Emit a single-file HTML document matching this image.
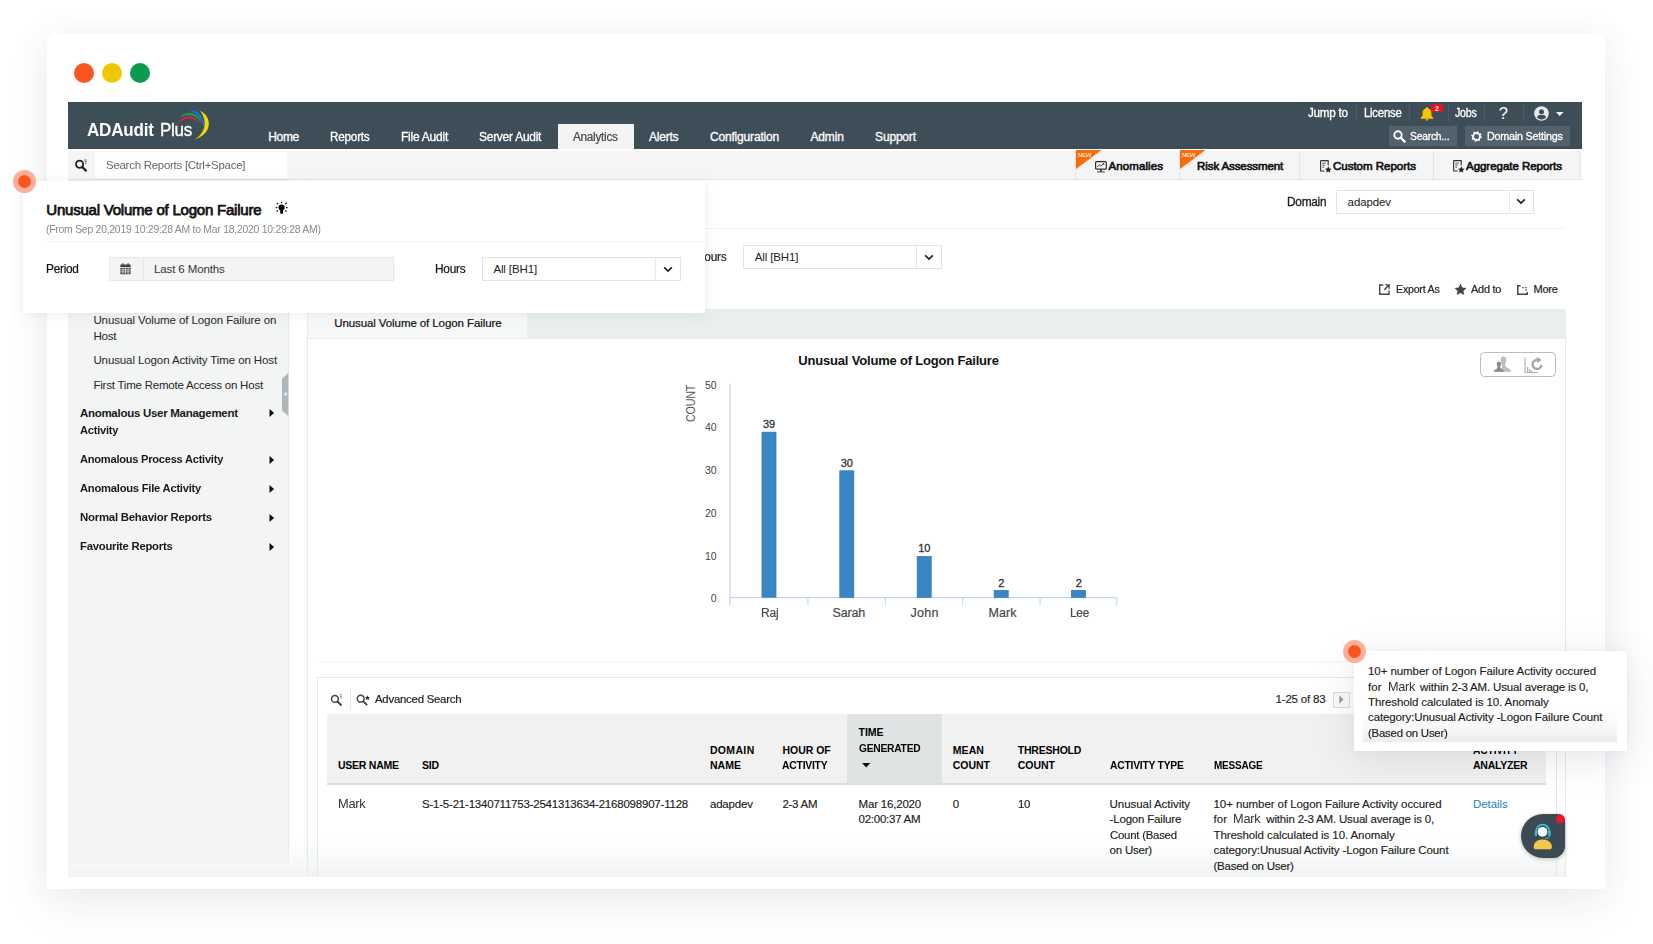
<!DOCTYPE html>
<html lang="en">
<head>
<meta charset="utf-8">
<title>ADAudit Plus - Unusual Volume of Logon Failure</title>
<style>
html,body{margin:0;padding:0;}
body{width:1653px;height:944px;position:relative;overflow:hidden;background:#fff;font-family:"Liberation Sans",Arial,sans-serif;color:#222;}
.a{position:absolute;box-sizing:border-box;}
.t{position:absolute;white-space:pre;line-height:1;display:block;}
svg{position:absolute;overflow:visible;}
.win{left:47px;top:33px;width:1558px;height:856px;background:#fff;border-radius:11px 11px 0 0;box-shadow:0 16px 40px rgba(100,112,130,.10),0 0 34px rgba(100,112,130,.06);}
.dot{border-radius:50%;width:20px;height:20px;top:62.5px;}
.hdr{left:68px;top:102px;width:1514px;height:47px;background:#3e4e58;}
.sep{width:1px;top:104px;height:18px;background:#4c5c66;}
.hbtn{top:126px;height:20px;background:#52626c;}
.sub{left:68px;top:151px;width:1514px;height:29px;background:#f5f5f5;border-bottom:1px solid #e2e8e8;}
.vsep{width:1px;top:151px;height:30px;background:#e0e6e6;}
.side{left:68px;top:180px;width:221px;height:684px;background:#f3f4f4;border-right:1px solid #e4e9e9;}
.sel{background:#fff;border:1px solid #dfe5e5;}
.card{background:#fff;}
</style>
</head>
<body>

<!-- browser-like window frame -->
<div class="a win"></div>
<div class="a dot" style="left:74px;background:#f9561f;"></div>
<div class="a dot" style="left:102px;background:#f0c800;"></div>
<div class="a dot" style="left:130px;background:#0a9a50;"></div>

<!-- top header -->
<header>
<div class="a hdr"></div>
<svg style="left:170px;top:104px;" width="46" height="40" viewBox="170 104 46 40" fill="none" stroke-linecap="round">
  <path d="M199.600 110.800 C212.500 116 213 134 194.200 139.800 C206.500 133 207.500 119 199.600 110.800 Z" fill="#f7d800" stroke="none"/>
  <path d="M189.6 110.7 C198.5 109.2 206.5 118.5 203.9 131.2 C204 121.5 198.2 112.8 189.6 110.7 Z" fill="#1278d4" stroke="none"/>
  <path d="M180.2 117.6 C186 109.8 198.5 111.6 201.4 123.2 C197.2 114.8 187.2 112.5 180.2 117.6 Z" fill="#12a551" stroke="none"/>
  <path d="M177.9 125 C180.8 114.2 195.4 113.4 199.6 123.6 C194.4 116.6 183 116.6 177.9 125 Z" fill="#ed1c3c" stroke="none"/>
</svg>
<div class="a" style="left:558px;top:124px;width:76px;height:25px;background:#f4f4f4;"></div>
<div class="a sep" style="left:1356px;"></div>
<div class="a sep" style="left:1409px;"></div>
<div class="a sep" style="left:1448px;"></div>
<div class="a sep" style="left:1484px;"></div>
<div class="a sep" style="left:1523px;"></div>
<!-- bell -->
<svg style="left:1419px;top:106px;" width="16" height="16" viewBox="0 0 16 16"><path d="M8 1.2c-.7 0-1.1.5-1.1 1.1C4.700 2.900 3.600 4.800 3.600 7v2.600L1.700 11.900v.8h12.600v-.8L12.400 9.600V7c0-2.200-1.100-4.100-3.300-4.700C9.100 1.700 8.700 1.200 8 1.200zM6.600 13.300c0 .8.600 1.400 1.400 1.400s1.400-.6 1.400-1.400z" fill="#f6c700"/></svg>
<div class="a" style="left:1431px;top:104px;width:12px;height:8px;background:#e8131f;border-radius:1.5px;"></div>
<!-- avatar -->
<svg style="left:1534px;top:105.5px;" width="15" height="15" viewBox="0 0 15 15"><circle cx="7.500" cy="7.500" r="7.300" fill="#e6e8e9"/><circle cx="7.500" cy="5.700" r="2.500" fill="#3e4e58"/><path d="M2.900 11.400c.5-2 2.300-2.700 4.600-2.700s4.100.7 4.600 2.700c-1.200 1.300-2.800 2-4.600 2s-3.400-.7-4.600-2z" fill="#3e4e58"/></svg>
<svg style="left:1556px;top:112px;" width="8" height="5" viewBox="0 0 8 5"><path d="M0 0h7.400L3.700 4z" fill="#fff"/></svg>
<!-- header buttons -->
<div class="a hbtn" style="left:1388.5px;width:68px;"></div>
<div class="a hbtn" style="left:1465px;width:104.500px;"></div>
<svg style="left:1393px;top:130px;" width="13" height="13" viewBox="0 0 13 13" fill="none" stroke="#fff"><circle cx="5" cy="5" r="3.700" stroke-width="1.900"/><path d="M7.800 7.800L11.600 11.600" stroke-width="2.200" stroke-linecap="round"/></svg>
<svg style="left:1471px;top:130.500px;" width="11" height="11" viewBox="0 0 11 11" fill="none" stroke="#fff"><circle cx="5.500" cy="5.500" r="3.500" stroke-width="1.800"/><circle cx="5.500" cy="5.500" r="4.700" stroke-width="1.300" stroke-dasharray="1.500 2.190"/></svg>
<span class="t" style="left:87.40px;top:122.00px;font-size:17.5px;font-weight:700;color:#fff;letter-spacing:-0.250px;transform:scaleX(0.9760);transform-origin:0 0;">ADAudit</span>
<span class="t" style="left:160.00px;top:122.00px;font-size:17.5px;color:#fff;letter-spacing:-0.250px;transform:scaleX(0.9683);transform-origin:0 0;-webkit-text-stroke:0.35px;">Plus</span>
<span class="t" style="left:268.20px;top:131.00px;font-size:12px;color:#fff;letter-spacing:-0.304px;-webkit-text-stroke:0.3px;">Home</span>
<span class="t" style="left:330.40px;top:131.00px;font-size:12px;color:#fff;letter-spacing:-0.250px;transform:scaleX(0.9806);transform-origin:0 0;-webkit-text-stroke:0.3px;">Reports</span>
<span class="t" style="left:401.30px;top:131.00px;font-size:12px;color:#fff;letter-spacing:-0.250px;transform:scaleX(1.0030);transform-origin:0 0;-webkit-text-stroke:0.3px;">File Audit</span>
<span class="t" style="left:479.20px;top:131.00px;font-size:12px;color:#fff;letter-spacing:-0.250px;transform:scaleX(0.9972);transform-origin:0 0;-webkit-text-stroke:0.3px;">Server Audit</span>
<span class="t" style="left:573.20px;top:131.00px;font-size:12px;color:#444;letter-spacing:-0.250px;transform:scaleX(0.9764);transform-origin:0 0;-webkit-text-stroke:0.2px;">Analytics</span>
<span class="t" style="left:648.90px;top:131.00px;font-size:12px;color:#fff;letter-spacing:-0.198px;-webkit-text-stroke:0.3px;">Alerts</span>
<span class="t" style="left:709.90px;top:131.00px;font-size:12px;color:#fff;letter-spacing:-0.169px;-webkit-text-stroke:0.3px;">Configuration</span>
<span class="t" style="left:810.50px;top:131.00px;font-size:12px;color:#fff;letter-spacing:-0.163px;-webkit-text-stroke:0.3px;">Admin</span>
<span class="t" style="left:875.10px;top:131.00px;font-size:12px;color:#fff;letter-spacing:-0.190px;-webkit-text-stroke:0.3px;">Support</span>
<span class="t" style="left:1308.30px;top:107.00px;font-size:12px;color:#fff;letter-spacing:-0.250px;transform:scaleX(0.9698);transform-origin:0 0;-webkit-text-stroke:0.3px;">Jump to</span>
<span class="t" style="left:1364.00px;top:107.00px;font-size:12px;color:#fff;letter-spacing:-0.250px;transform:scaleX(0.9464);transform-origin:0 0;-webkit-text-stroke:0.3px;">License</span>
<span class="t" style="left:1455.00px;top:107.00px;font-size:12px;color:#fff;letter-spacing:-0.250px;transform:scaleX(0.8867);transform-origin:0 0;-webkit-text-stroke:0.3px;">Jobs</span>
<span class="t" style="left:1498.80px;top:105.00px;font-size:16.5px;color:#fff;">?</span>
<span class="t" style="left:1435.05px;top:105.00px;font-size:7px;font-weight:700;color:#fff;">2</span>
<span class="t" style="left:1409.90px;top:131.00px;font-size:11.5px;color:#fff;letter-spacing:-0.250px;transform:scaleX(0.8976);transform-origin:0 0;-webkit-text-stroke:0.3px;">Search...</span>
<span class="t" style="left:1486.70px;top:131.00px;font-size:11.5px;color:#fff;letter-spacing:-0.250px;transform:scaleX(0.9377);transform-origin:0 0;-webkit-text-stroke:0.3px;">Domain Settings</span>
</header>

<!-- search / report type bar -->
<section>
<div class="a sub"></div>
<div class="a" style="left:95px;top:152px;width:192px;height:25.500px;background:#fff;"></div>
<svg style="left:73.500px;top:158.500px;" width="14" height="13" viewBox="0 0 14 13" fill="none" stroke="#222"><circle cx="5.600" cy="5.300" r="3.600" stroke-width="1.800"/><path d="M8.400 8.100L12 11.600" stroke-width="2.200" stroke-linecap="round"/><path d="M10.300 1h2.200M10.800 2.700h1.700M11.200 4.300h1.300" stroke-width=".8"/></svg>
<div class="a vsep" style="left:1075px;"></div>
<div class="a vsep" style="left:1179px;"></div>
<div class="a vsep" style="left:1299px;"></div>
<div class="a vsep" style="left:1433px;"></div>
<div class="a vsep" style="left:1579px;"></div>
<svg style="left:1076px;top:150px;" width="26" height="19" viewBox="0 0 26 19"><path d="M0 0h25.600L0 19z" fill="#ff6a08"/></svg>
<svg style="left:1180px;top:150px;" width="26" height="19" viewBox="0 0 26 19"><path d="M0 0h25.600L0 19z" fill="#ff6a08"/></svg>
<!-- monitor icon -->
<svg style="left:1095px;top:160.500px;" width="12" height="12" viewBox="0 0 12 12" fill="none" stroke="#2a2a2a"><rect x=".6" y=".7" width="10.700" height="7.500" rx="1" stroke-width="1.200"/><path d="M2.400 6l1.900-2.300 1.600 1.500 2.400-2.300" stroke-width=".9"/><circle cx="8.600" cy="2.900" r=".8" fill="#2a2a2a" stroke="none"/><path d="M5.900 8.400v2.200" stroke-width="1.800"/><path d="M2 10.900h7.800" stroke-width=".9"/></svg>
<!-- doc-star icons -->
<svg style="left:1319.600px;top:160px;" width="12" height="13" viewBox="0 0 12 13" fill="none" stroke="#333"><path d="M.6 .6h7.600v5M.6 .6v10.400h4" stroke-width="1.100"/><path d="M2.300 3.200h3.500M2.300 5.200h2.500M2.300 7.200h1.800" stroke-width=".8"/><path d="M8.300 6.300l1 2.100 2.300.3-1.700 1.600.4 2.300-2-1.100-2 1.100.4-2.300L5 8.700l2.300-.3z" fill="#222" stroke="none"/></svg>
<svg style="left:1452.600px;top:160px;" width="12" height="13" viewBox="0 0 12 13" fill="none" stroke="#333"><path d="M.6 .6h7.600v5M.6 .6v10.400h4" stroke-width="1.100"/><path d="M2.300 3.200h3.500M2.300 5.200h2.500M2.300 7.200h1.800" stroke-width=".8"/><path d="M8.300 6.300l1 2.100 2.300.3-1.700 1.600.4 2.300-2-1.100-2 1.100.4-2.300L5 8.700l2.300-.3z" fill="#222" stroke="none"/></svg>
<span class="t" style="left:106.10px;top:160.00px;font-size:11.5px;color:#666;letter-spacing:-0.250px;transform:scaleX(0.9946);transform-origin:0 0;">Search Reports [Ctrl+Space]</span>
<span class="t" style="left:1078.20px;top:152.00px;font-size:6px;font-weight:700;color:#ffe6d8;letter-spacing:-0.250px;transform:scaleX(0.9811);transform-origin:0 0;">NEW</span>
<span class="t" style="left:1182.20px;top:152.00px;font-size:6px;font-weight:700;color:#ffe6d8;letter-spacing:-0.250px;transform:scaleX(0.9811);transform-origin:0 0;">NEW</span>
<span class="t" style="left:1108.50px;top:161.00px;font-size:11.5px;color:#111;letter-spacing:0.100px;-webkit-text-stroke:0.65px;">Anomalies</span>
<span class="t" style="left:1197.10px;top:161.00px;font-size:11.5px;color:#111;letter-spacing:-0.104px;-webkit-text-stroke:0.65px;">Risk Assessment</span>
<span class="t" style="left:1333.00px;top:161.00px;font-size:11.5px;color:#111;letter-spacing:-0.007px;-webkit-text-stroke:0.65px;">Custom Reports</span>
<span class="t" style="left:1466.00px;top:161.00px;font-size:11.5px;color:#111;letter-spacing:-0.032px;-webkit-text-stroke:0.65px;">Aggregate Reports</span>
</section>

<!-- left navigation -->
<nav>
<div class="a side"></div>
<svg style="left:281px;top:373px;" width="8" height="43" viewBox="0 0 8 43"><path d="M7.300 0v43L1 37.500V5.700z" fill="#afb7bb"/><path d="M5.500 19v4.200l-2.600-2.100z" fill="#fff"/></svg>
<svg style="left:268.500px;top:407.500px;" width="6" height="150" viewBox="0 0 6 150" fill="#111"><path d="M.5 1l4.600 4L.5 9z"/><path d="M.5 48l4.600 4-4.600 4z"/><path d="M.5 77l4.600 4-4.600 4z"/><path d="M.5 106l4.600 4-4.600 4z"/><path d="M.5 135l4.600 4-4.600 4z"/></svg>
<span class="t" style="left:93.40px;top:315.00px;font-size:11.5px;color:#262626;letter-spacing:-0.090px;">Unusual Volume of Logon Failure on</span>
<span class="t" style="left:93.40px;top:331.00px;font-size:11.5px;color:#262626;letter-spacing:-0.189px;">Host</span>
<span class="t" style="left:93.40px;top:355.00px;font-size:11.5px;color:#262626;letter-spacing:-0.103px;">Unusual Logon Activity Time on Host</span>
<span class="t" style="left:93.40px;top:380.00px;font-size:11.5px;color:#262626;letter-spacing:-0.215px;">First Time Remote Access on Host</span>
<span class="t" style="left:79.90px;top:408.00px;font-size:11.5px;font-weight:700;color:#1a1a1a;letter-spacing:-0.279px;">Anomalous User Management</span>
<span class="t" style="left:79.90px;top:425.00px;font-size:11.5px;font-weight:700;color:#1a1a1a;letter-spacing:-0.250px;transform:scaleX(0.9659);transform-origin:0 0;">Activity</span>
<span class="t" style="left:79.90px;top:454.00px;font-size:11.5px;font-weight:700;color:#1a1a1a;letter-spacing:-0.250px;transform:scaleX(0.9644);transform-origin:0 0;">Anomalous Process Activity</span>
<span class="t" style="left:79.90px;top:483.00px;font-size:11.5px;font-weight:700;color:#1a1a1a;letter-spacing:-0.250px;transform:scaleX(0.9751);transform-origin:0 0;">Anomalous File Activity</span>
<span class="t" style="left:79.90px;top:512.00px;font-size:11.5px;font-weight:700;color:#1a1a1a;letter-spacing:-0.250px;transform:scaleX(0.9922);transform-origin:0 0;">Normal Behavior Reports</span>
<span class="t" style="left:79.90px;top:541.00px;font-size:11.5px;font-weight:700;color:#1a1a1a;letter-spacing:-0.250px;transform:scaleX(0.9822);transform-origin:0 0;">Favourite Reports</span>
</nav>

<!-- main report area -->
<main>
<!-- bottom fade of the cropped screenshot -->
<div class="a" style="left:68px;top:838px;width:1498px;height:38.500px;background:linear-gradient(to bottom,rgba(241,243,244,0) 0%,rgba(241,243,244,.5) 55%,rgba(240,242,243,.95) 100%);"></div>
<div class="a" style="left:307px;top:180px;width:1px;height:696px;background:#e6ebec;"></div>
<div class="a" style="left:1565px;top:309px;width:1px;height:567px;background:#e6ebec;"></div>
<div class="a" style="left:705px;top:228px;width:860px;height:1px;background:#f1f3f3;"></div>
<!-- domain select -->
<div class="a sel" style="left:1336px;top:190px;width:198px;height:24px;"></div>
<div class="a" style="left:1508.500px;top:191px;width:1px;height:22px;background:#e3e8e8;"></div>
<svg style="left:1516px;top:198px;" width="10" height="7" viewBox="0 0 10 7" fill="none" stroke="#222" stroke-width="1.700"><path d="M1.200 1.300L5 5l3.800-3.700"/></svg>
<!-- hours select (partly hidden by the callout) -->
<div class="a sel" style="left:742.500px;top:245px;width:199px;height:24px;"></div>
<div class="a" style="left:915.500px;top:246px;width:1px;height:22px;background:#e3e8e8;"></div>
<svg style="left:923.500px;top:253.500px;" width="10" height="7" viewBox="0 0 10 7" fill="none" stroke="#222" stroke-width="1.700"><path d="M1.200 1.300L5 5l3.800-3.700"/></svg>
<!-- export / add / more -->
<svg style="left:1379px;top:284px;" width="11" height="11" viewBox="0 0 11 11" fill="none" stroke="#444" stroke-width="1.400"><path d="M4.300 1H.7v9.300H10V6.500"/><path d="M6.300 .9h3.800v3.800M10 1L5.300 5.700"/></svg>
<svg style="left:1454px;top:283px;" width="13" height="13" viewBox="0 0 13 13"><path d="M6.500 .6l1.800 3.900 4.200.5-3.100 2.900.8 4.200-3.700-2.100-3.700 2.100.8-4.200L.5 5l4.200-.5z" fill="#454545"/></svg>
<svg style="left:1517px;top:284.500px;" width="11" height="10" viewBox="0 0 11 10" fill="none" stroke="#444"><path d="M3.600 .8H.8v8.400h9.400V7" stroke-width="1.500"/><path d="M5.200 2.600h1.400M8.300 2.600h1.400M8.300 4.900h1.400" stroke-width="1.400"/></svg>
<!-- tab strip -->
<div class="a" style="left:308px;top:309px;width:1258px;height:29.500px;background:#e9eeee;"></div>
<div class="a" style="left:308px;top:309px;width:219px;height:28.500px;background:#f7f9f9;"></div>
<!-- chart buttons -->
<div class="a" style="left:1480px;top:352px;width:76px;height:25px;border:1px solid #bcbcbc;border-radius:4.500px;background:#fff;"></div>
<svg style="left:1493px;top:355.500px;" width="19" height="18" viewBox="0 0 19 18"><path d="M10.300 .5c2 0 3 1.600 3 3.800 0 1.700-.6 2.900-1.300 3.800 0 1.600.4 2.700 1.900 3.500l3.300 1.800c.6.400.9 1 .9 1.700v.7H5l2.600-3.200c1.200-.8 1.500-2.200 1.500-3.900-.9-.9-1.500-2.400-1.500-4.200 0-2.300.9-4 2.700-4z" fill="#bdbdbd"/><path d="M6 5.400c1.300 0 2 1.100 2 2.600 0 1.100-.4 2-.9 2.600 0 1 .3 1.900 1.300 2.400l1.800 1.100c.5.300.7.800.7 1.300v.4H.8v-.4c0-.5.200-1 .7-1.300l1.800-1.100c1-.5 1.300-1.400 1.300-2.400-.500-.600-.900-1.500-.9-2.600 0-1.500.9-2.600 2.300-2.600z" fill="#8a8a8a"/></svg>
<svg style="left:1523px;top:355.500px;" width="22" height="18" viewBox="0 0 22 18" fill="none" stroke="#b0b0b0"><path d="M2 1.500v15h13" stroke-width="1.100"/><path d="M4.600 16v-5M6.700 16v-3M8.800 16v-1.800" stroke-width="1.300"/><path d="M15.400 4.200a4.500 4.500 0 1 0 3.100 4.800" stroke-width="2.400" stroke="#a6a6a6"/><path d="M13.500 .8l5.200 3-4.300 3.300z" fill="#a6a6a6" stroke="none"/></svg>
<!-- chart -->
<svg style="left:660px;top:375px;" width="480" height="240" viewBox="660 375 480 240">
  <path d="M729.900 383.500V605.500" stroke="#d3e1ef" stroke-width="1.700" fill="none"/><path d="M807.900 597.500v8M885.300 597.500v8M962.700 597.500v8M1040.100 597.500v8M1116.700 597.500v8" stroke="#c9dcee" stroke-width="1.200" fill="none"/>
  <path d="M730 597.700H1117" stroke="#c3d8ec" stroke-width="1.200" fill="none"/>
  <g fill="#3a86c4" stroke="#2e7ab8" stroke-width=".8">
    <rect x="762" y="432.200" width="14" height="165"/>
    <rect x="839.800" y="470.800" width="14" height="126.500"/>
    <rect x="917.200" y="556.600" width="14" height="40.700"/>
    <rect x="994.200" y="590.600" width="14" height="6.700"/>
    <rect x="1071.600" y="590.600" width="14" height="6.700"/>
  </g>
</svg>
<span class="t" style="left:798.30px;top:354.00px;font-size:13px;font-weight:700;color:#111;letter-spacing:-0.188px;">Unusual Volume of Logon Failure</span>
<span class="t" style="left:704.91px;top:380.00px;font-size:10.5px;color:#444;">50</span>
<span class="t" style="left:704.91px;top:422.00px;font-size:10.5px;color:#444;">40</span>
<span class="t" style="left:704.91px;top:465.00px;font-size:10.5px;color:#444;">30</span>
<span class="t" style="left:704.91px;top:508.00px;font-size:10.5px;color:#444;">20</span>
<span class="t" style="left:704.91px;top:551.00px;font-size:10.5px;color:#444;">10</span>
<span class="t" style="left:710.76px;top:593.00px;font-size:10.5px;color:#444;">0</span>
<span class="t" style="left:762.88px;top:419.00px;font-size:11px;color:#333;-webkit-text-stroke:0.3px;">39</span>
<span class="t" style="left:840.67px;top:458.00px;font-size:11px;color:#333;-webkit-text-stroke:0.3px;">30</span>
<span class="t" style="left:918.17px;top:543.00px;font-size:11px;color:#333;-webkit-text-stroke:0.3px;">10</span>
<span class="t" style="left:998.14px;top:578.00px;font-size:11px;color:#333;-webkit-text-stroke:0.3px;">2</span>
<span class="t" style="left:1075.74px;top:578.00px;font-size:11px;color:#333;-webkit-text-stroke:0.3px;">2</span>
<span class="t" style="left:760.80px;top:607.00px;font-size:12.5px;color:#4a4a4a;letter-spacing:-0.250px;transform:scaleX(0.9658);transform-origin:0 0;-webkit-text-stroke:0.2px;">Raj</span>
<span class="t" style="left:832.60px;top:607.00px;font-size:12.5px;color:#4a4a4a;letter-spacing:-0.192px;-webkit-text-stroke:0.2px;">Sarah</span>
<span class="t" style="left:910.45px;top:607.00px;font-size:12.5px;color:#4a4a4a;letter-spacing:0.298px;-webkit-text-stroke:0.2px;">John</span>
<span class="t" style="left:988.40px;top:607.00px;font-size:12.5px;color:#4a4a4a;letter-spacing:0.105px;-webkit-text-stroke:0.2px;">Mark</span>
<span class="t" style="left:1070.05px;top:607.00px;font-size:12.5px;color:#4a4a4a;letter-spacing:-0.250px;transform:scaleX(0.9498);transform-origin:0 0;-webkit-text-stroke:0.2px;">Lee</span>
<span class="t" style="left:685.00px;top:421.70px;font-size:12.5px;color:#555;letter-spacing:-0.250px;transform:rotate(-90deg) scaleX(0.8610);transform-origin:0 0;">COUNT</span>
<div class="a" style="left:318px;top:661px;width:1247px;height:1px;background:#f3f5f5;"></div>
<!-- table container -->
<div class="a" style="left:317px;top:677px;width:1239.500px;height:199px;border:1px solid #e3e9e9;border-bottom:none;"></div>
<svg style="left:330px;top:693.500px;" width="13" height="12" viewBox="0 0 13 12" fill="none" stroke="#444"><circle cx="4.900" cy="4.900" r="3.400" stroke-width="1.500"/><path d="M7.500 7.500l3.500 3.500" stroke-width="1.900" stroke-linecap="round"/><path d="M9.800 1h2M10.200 2.600h1.600M10.600 4.100h1.200" stroke-width=".7"/></svg>
<div class="a" style="left:350px;top:688px;width:1px;height:22px;background:#e3e6e6;"></div>
<svg style="left:356px;top:693.500px;" width="14" height="12" viewBox="0 0 14 12" fill="none" stroke="#444"><circle cx="4.700" cy="4.700" r="3.400" stroke-width="1.500"/><path d="M7.300 7.300l3.400 3.400" stroke-width="1.900" stroke-linecap="round"/><path d="M11.500 1.300l.75 1.700 1.850.2-1.400 1.250.4 1.850-1.600-.95-1.600.95.400-1.850L8.900 3.200l1.850-.2z" fill="#333" stroke="none"/></svg>
<div class="a" style="left:1333px;top:691.500px;width:16.500px;height:16px;border:1px solid #dcdcdc;background:#fafafa;"></div>
<svg style="left:1339px;top:695px;" width="5" height="9" viewBox="0 0 5 9"><path d="M.3 .3l4.200 4.200L.3 8.700z" fill="#9a9a9a"/></svg>
<!-- table header -->
<div class="a" style="left:327px;top:714px;width:1219px;height:71px;background:#f1f1f1;border-bottom:2px solid #dcdfdf;"></div>
<div class="a" style="left:847px;top:714px;width:95px;height:69px;background:#dfe3e4;"></div>
<svg style="left:861.500px;top:762.500px;" width="9" height="5" viewBox="0 0 9 5"><path d="M0 0h8.400L4.200 4.400z" fill="#111"/></svg>
<span class="t" style="left:1287.00px;top:196.00px;font-size:12px;letter-spacing:-0.250px;transform:scaleX(0.9860);transform-origin:0 0;-webkit-text-stroke:0.3px;">Domain</span>
<span class="t" style="left:1347.60px;top:197.00px;font-size:11.5px;letter-spacing:-0.104px;">adapdev</span>
<span class="t" style="left:696.10px;top:251.00px;font-size:12px;letter-spacing:-0.250px;transform:scaleX(0.9881);transform-origin:0 0;-webkit-text-stroke:0.2px;">Hours</span>
<span class="t" style="left:754.80px;top:252.00px;font-size:11.5px;letter-spacing:-0.128px;">All [BH1]</span>
<span class="t" style="left:1395.90px;top:284.00px;font-size:11px;letter-spacing:-0.250px;transform:scaleX(0.9704);transform-origin:0 0;-webkit-text-stroke:0.2px;">Export As</span>
<span class="t" style="left:1471.40px;top:284.00px;font-size:11px;letter-spacing:-0.250px;transform:scaleX(0.9963);transform-origin:0 0;-webkit-text-stroke:0.2px;">Add to</span>
<span class="t" style="left:1533.50px;top:284.00px;font-size:11px;letter-spacing:-0.216px;-webkit-text-stroke:0.2px;">More</span>
<span class="t" style="left:334.20px;top:318.00px;font-size:11.5px;color:#111;letter-spacing:-0.089px;-webkit-text-stroke:0.2px;">Unusual Volume of Logon Failure</span>
<span class="t" style="left:374.90px;top:694.00px;font-size:11.5px;letter-spacing:-0.250px;transform:scaleX(0.9914);transform-origin:0 0;-webkit-text-stroke:0.2px;">Advanced Search</span>
<span class="t" style="left:1275.60px;top:694.00px;font-size:11.5px;letter-spacing:-0.200px;-webkit-text-stroke:0.15px;">1-25 of 83</span>
<span class="t" style="left:337.90px;top:760.00px;font-size:10.5px;font-weight:700;color:#000;letter-spacing:-0.224px;">USER NAME</span>
<span class="t" style="left:422.00px;top:760.00px;font-size:10.5px;font-weight:700;color:#000;letter-spacing:-0.205px;">SID</span>
<span class="t" style="left:709.90px;top:745.00px;font-size:10.5px;font-weight:700;color:#000;letter-spacing:0.351px;">DOMAIN</span>
<span class="t" style="left:709.90px;top:760.00px;font-size:10.5px;font-weight:700;color:#000;letter-spacing:0.045px;">NAME</span>
<span class="t" style="left:782.40px;top:745.00px;font-size:10.5px;font-weight:700;color:#000;letter-spacing:-0.003px;">HOUR OF</span>
<span class="t" style="left:782.40px;top:760.00px;font-size:10.5px;font-weight:700;color:#000;letter-spacing:-0.250px;transform:scaleX(0.9903);transform-origin:0 0;">ACTIVITY</span>
<span class="t" style="left:858.60px;top:727.00px;font-size:10.5px;font-weight:700;color:#000;letter-spacing:-0.073px;">TIME</span>
<span class="t" style="left:858.60px;top:743.00px;font-size:10.5px;font-weight:700;color:#000;letter-spacing:-0.250px;transform:scaleX(0.9761);transform-origin:0 0;">GENERATED</span>
<span class="t" style="left:952.80px;top:745.00px;font-size:10.5px;font-weight:700;color:#000;letter-spacing:0.070px;">MEAN</span>
<span class="t" style="left:952.80px;top:760.00px;font-size:10.5px;font-weight:700;color:#000;letter-spacing:-0.029px;">COUNT</span>
<span class="t" style="left:1017.80px;top:745.00px;font-size:10.5px;font-weight:700;color:#000;letter-spacing:-0.216px;">THRESHOLD</span>
<span class="t" style="left:1017.80px;top:760.00px;font-size:10.5px;font-weight:700;color:#000;letter-spacing:-0.029px;">COUNT</span>
<span class="t" style="left:1109.60px;top:760.00px;font-size:10.5px;font-weight:700;color:#000;letter-spacing:-0.250px;transform:scaleX(0.9846);transform-origin:0 0;">ACTIVITY TYPE</span>
<span class="t" style="left:1214.00px;top:760.00px;font-size:10.5px;font-weight:700;color:#000;letter-spacing:-0.250px;transform:scaleX(0.9534);transform-origin:0 0;">MESSAGE</span>
<span class="t" style="left:1473.00px;top:745.00px;font-size:10.5px;font-weight:700;color:#000;letter-spacing:-0.250px;transform:scaleX(0.9903);transform-origin:0 0;">ACTIVITY</span>
<span class="t" style="left:1473.00px;top:760.00px;font-size:10.5px;font-weight:700;color:#000;letter-spacing:-0.225px;">ANALYZER</span>
<span class="t" style="left:337.90px;top:797.00px;font-size:13px;color:#333;letter-spacing:-0.250px;transform:scaleX(0.9860);transform-origin:0 0;">Mark</span>
<span class="t" style="left:422.00px;top:799.00px;font-size:11.5px;color:#1c1c1c;letter-spacing:-0.213px;-webkit-text-stroke:0.15px;">S-1-5-21-1340711753-2541313634-2168098907-1128</span>
<span class="t" style="left:709.90px;top:799.00px;font-size:11.5px;color:#1c1c1c;letter-spacing:-0.161px;-webkit-text-stroke:0.15px;">adapdev</span>
<span class="t" style="left:782.40px;top:799.00px;font-size:11.5px;color:#1c1c1c;letter-spacing:-0.256px;-webkit-text-stroke:0.15px;">2-3 AM</span>
<span class="t" style="left:858.60px;top:799.00px;font-size:11.5px;color:#1c1c1c;letter-spacing:-0.198px;-webkit-text-stroke:0.15px;">Mar 16,2020</span>
<span class="t" style="left:858.60px;top:814.00px;font-size:11.5px;color:#1c1c1c;letter-spacing:-0.262px;-webkit-text-stroke:0.15px;">02:00:37 AM</span>
<span class="t" style="left:952.80px;top:799.00px;font-size:11.5px;color:#1c1c1c;-webkit-text-stroke:0.15px;">0</span>
<span class="t" style="left:1017.80px;top:799.00px;font-size:11.5px;color:#1c1c1c;letter-spacing:-0.250px;transform:scaleX(0.9921);transform-origin:0 0;-webkit-text-stroke:0.15px;">10</span>
<span class="t" style="left:1109.60px;top:799.00px;font-size:11.5px;color:#1c1c1c;letter-spacing:-0.049px;-webkit-text-stroke:0.15px;">Unusual Activity</span>
<span class="t" style="left:1109.60px;top:814.00px;font-size:11.5px;color:#1c1c1c;letter-spacing:-0.190px;-webkit-text-stroke:0.15px;">-Logon Failure</span>
<span class="t" style="left:1109.60px;top:830.00px;font-size:11.5px;color:#1c1c1c;letter-spacing:-0.250px;transform:scaleX(0.9922);transform-origin:0 0;-webkit-text-stroke:0.15px;">Count (Based</span>
<span class="t" style="left:1109.60px;top:845.00px;font-size:11.5px;color:#1c1c1c;letter-spacing:-0.214px;-webkit-text-stroke:0.15px;">on User)</span>
<span class="t" style="left:1213.50px;top:799.00px;font-size:11.5px;color:#1c1c1c;letter-spacing:-0.070px;-webkit-text-stroke:0.15px;">10+ number of Logon Failure Activity occured</span>
<span class="t" style="left:1213.50px;top:814.00px;font-size:11.5px;color:#1c1c1c;letter-spacing:0.026px;-webkit-text-stroke:0.15px;">for</span>
<span class="t" style="left:1233.40px;top:812.00px;font-size:13px;color:#333;letter-spacing:-0.250px;transform:scaleX(0.9824);transform-origin:0 0;">Mark</span>
<span class="t" style="left:1266.30px;top:814.00px;font-size:11.5px;color:#1c1c1c;letter-spacing:-0.181px;-webkit-text-stroke:0.15px;">within 2-3 AM. Usual average is 0,</span>
<span class="t" style="left:1213.50px;top:830.00px;font-size:11.5px;color:#1c1c1c;letter-spacing:-0.083px;-webkit-text-stroke:0.15px;">Threshold calculated is 10. Anomaly</span>
<span class="t" style="left:1213.50px;top:845.00px;font-size:11.5px;color:#1c1c1c;letter-spacing:-0.103px;-webkit-text-stroke:0.15px;">category:Unusual Activity -Logon Failure Count</span>
<span class="t" style="left:1213.50px;top:861.00px;font-size:11.5px;color:#1c1c1c;letter-spacing:-0.242px;-webkit-text-stroke:0.15px;">(Based on User)</span>
<span class="t" style="left:1473.00px;top:799.00px;font-size:11.5px;color:#1b80c4;letter-spacing:-0.065px;">Details</span>
</main>

<div class="a" style="left:1566px;top:180px;width:16px;height:696px;background:#fff;"></div>

<!-- chat assistant icon -->
<svg style="left:1521px;top:814px;filter:drop-shadow(0 1px 2px rgba(0,0,0,.25));" width="46" height="46" viewBox="0 0 46 46">
  <path d="M22 0H37A7 7 0 0 1 44 7V32A12 12 0 0 1 32 44H22A22 22 0 0 1 0 22A22 22 0 0 1 22 0z" fill="#3d4a53"/>
  <path d="M12.700 33c0-4.700 3.800-7.400 8.700-7.400s9.500 2.700 9.500 7.400c0 1.500-.9 2.300-2.300 2.300H15c-1.400 0-2.300-.8-2.300-2.300z" fill="#f2c84b"/>
  <circle cx="21.500" cy="17.800" r="4.900" fill="#f6f8f9"/>
  <path d="M15 19.500v-2.200a6.700 6.700 0 0 1 13.400 0v2.200" fill="none" stroke="#2ec4d6" stroke-width="1.600"/>
  <rect x="13.800" y="16.600" width="2.300" height="5.400" rx="1.100" fill="#2ec4d6"/><rect x="27.300" y="16.600" width="2.300" height="5.400" rx="1.100" fill="#2ec4d6"/>
  <path d="M28.400 21.500c0 2.300-1.800 3.300-4.600 3.300" fill="none" stroke="#2ec4d6" stroke-width="1"/>
  <circle cx="39.300" cy="5" r="4.400" fill="#f0142f"/>
</svg>

<!-- callout 1: report header -->
<aside>
<div class="a card" style="left:23px;top:181px;width:682px;height:132px;box-shadow:0 3px 14px rgba(90,100,120,.07),0 0 5px rgba(90,100,120,.05);"></div>
<div class="a" style="left:46px;top:241px;width:659px;height:1px;background:#f1f3f3;"></div>
<!-- bulb -->
<svg style="left:274px;top:200px;" width="16" height="16" viewBox="274 200 16 16" fill="#0a0a0a" stroke="#0a0a0a"><circle cx="281.600" cy="207.600" r="3.100" stroke="none"/><rect x="280.200" y="209.800" width="2.800" height="3.900" rx=".6" stroke="none"/><path d="M281.600 201.700v1.500M275.700 207.600h1.500M286 207.600h1.500M276.700 202.800l1.400 1.400M286.700 202.600l-1.400 1.400M276.600 211.700l1.300-1.300M286.600 211.700l-1.300-1.300" stroke-width="1.200" fill="none"/></svg>
<!-- period input -->
<div class="a" style="left:109px;top:257px;width:285px;height:24px;background:#f4f4f4;border:1px solid #e6e9e9;"></div>
<div class="a" style="left:142.500px;top:258px;width:1px;height:22px;background:#e2e6e6;"></div>
<svg style="left:119.500px;top:263px;" width="11" height="12" viewBox="0 0 11 12" fill="#444"><rect x=".3" y="1.500" width="10.400" height="2.700" rx=".6"/><rect x="2.200" y=".2" width="1.400" height="2.600" rx=".5"/><rect x="7.400" y=".2" width="1.400" height="2.600" rx=".5"/><path d="M.3 4.900h10.400v5.600c0 .4-.3.700-.7.700H1c-.4 0-.7-.3-.7-.7z"/><path d="M.3 6.900h10.400M.3 8.900h10.400M2.900 4.900v6.300M5.500 4.900v6.300M8.100 4.900v6.300" stroke="#f4f4f4" stroke-width=".7" fill="none"/></svg>
<!-- hours select -->
<div class="a sel" style="left:481.500px;top:257px;width:199px;height:24px;"></div>
<div class="a" style="left:654.500px;top:258px;width:1px;height:22px;background:#e3e8e8;"></div>
<svg style="left:662.500px;top:265.500px;" width="10" height="7" viewBox="0 0 10 7" fill="none" stroke="#222" stroke-width="1.700"><path d="M1.200 1.300L5 5l3.800-3.700"/></svg>
<span class="t" style="left:46.30px;top:202.00px;font-size:15px;color:#111;letter-spacing:-0.220px;-webkit-text-stroke:0.75px;">Unusual Volume of Logon Failure</span>
<span class="t" style="left:46.30px;top:224.00px;font-size:10.5px;color:#8a8a8a;letter-spacing:-0.250px;transform:scaleX(0.9916);transform-origin:0 0;">(From Sep 20,2019 10:29:28 AM to Mar 18,2020 10:29:28 AM)</span>
<span class="t" style="left:46.30px;top:263.00px;font-size:12px;color:#111;letter-spacing:-0.250px;transform:scaleX(0.9853);transform-origin:0 0;-webkit-text-stroke:0.2px;">Period</span>
<span class="t" style="left:154.00px;top:264.00px;font-size:11.5px;color:#333;letter-spacing:-0.118px;">Last 6 Months</span>
<span class="t" style="left:434.60px;top:263.00px;font-size:12px;color:#111;letter-spacing:-0.250px;transform:scaleX(0.9881);transform-origin:0 0;-webkit-text-stroke:0.2px;">Hours</span>
<span class="t" style="left:493.40px;top:264.00px;font-size:11.5px;letter-spacing:-0.128px;">All [BH1]</span>
</aside>

<!-- callout 2: message tooltip -->
<aside>
<div class="a card" style="left:1354px;top:651px;width:273px;height:100px;box-shadow:0 8px 40px rgba(60,70,90,.13),0 0 8px rgba(90,100,120,.05);"></div>
<div class="a" style="left:1363px;top:708px;width:254px;height:34px;background:linear-gradient(to bottom,rgba(236,238,239,0) 0%,rgba(236,238,239,.35) 50%,rgba(234,236,237,.95) 100%);"></div>
<span class="t" style="left:1368.00px;top:666.00px;font-size:11.5px;color:#1c1c1c;letter-spacing:-0.070px;-webkit-text-stroke:0.15px;">10+ number of Logon Failure Activity occured</span>
<span class="t" style="left:1368.00px;top:682.00px;font-size:11.5px;color:#1c1c1c;letter-spacing:0.026px;-webkit-text-stroke:0.15px;">for</span>
<span class="t" style="left:1387.50px;top:680.00px;font-size:13px;color:#333;letter-spacing:-0.250px;transform:scaleX(0.9752);transform-origin:0 0;">Mark</span>
<span class="t" style="left:1420.10px;top:682.00px;font-size:11.5px;color:#1c1c1c;letter-spacing:-0.164px;-webkit-text-stroke:0.15px;">within 2-3 AM. Usual average is 0,</span>
<span class="t" style="left:1368.00px;top:697.00px;font-size:11.5px;color:#1c1c1c;letter-spacing:-0.100px;-webkit-text-stroke:0.15px;">Threshold calculated is 10. Anomaly</span>
<span class="t" style="left:1368.00px;top:712.00px;font-size:11.5px;color:#1c1c1c;letter-spacing:-0.116px;-webkit-text-stroke:0.15px;">category:Unusual Activity -Logon Failure Count</span>
<span class="t" style="left:1368.00px;top:728.00px;font-size:11.5px;color:#1c1c1c;letter-spacing:-0.250px;transform:scaleX(0.9952);transform-origin:0 0;-webkit-text-stroke:0.15px;">(Based on User)</span>
</aside>

<!-- hotspot markers -->
<div class="a" style="left:13px;top:170px;width:23px;height:23px;border-radius:50%;background:#fbb099;"></div>
<div class="a" style="left:18px;top:175px;width:13px;height:13px;border-radius:50%;background:#f9561f;"></div>
<div class="a" style="left:1343px;top:640px;width:23px;height:23px;border-radius:50%;background:#fbb099;"></div>
<div class="a" style="left:1348px;top:645px;width:13px;height:13px;border-radius:50%;background:#f9561f;"></div>

</body>
</html>
